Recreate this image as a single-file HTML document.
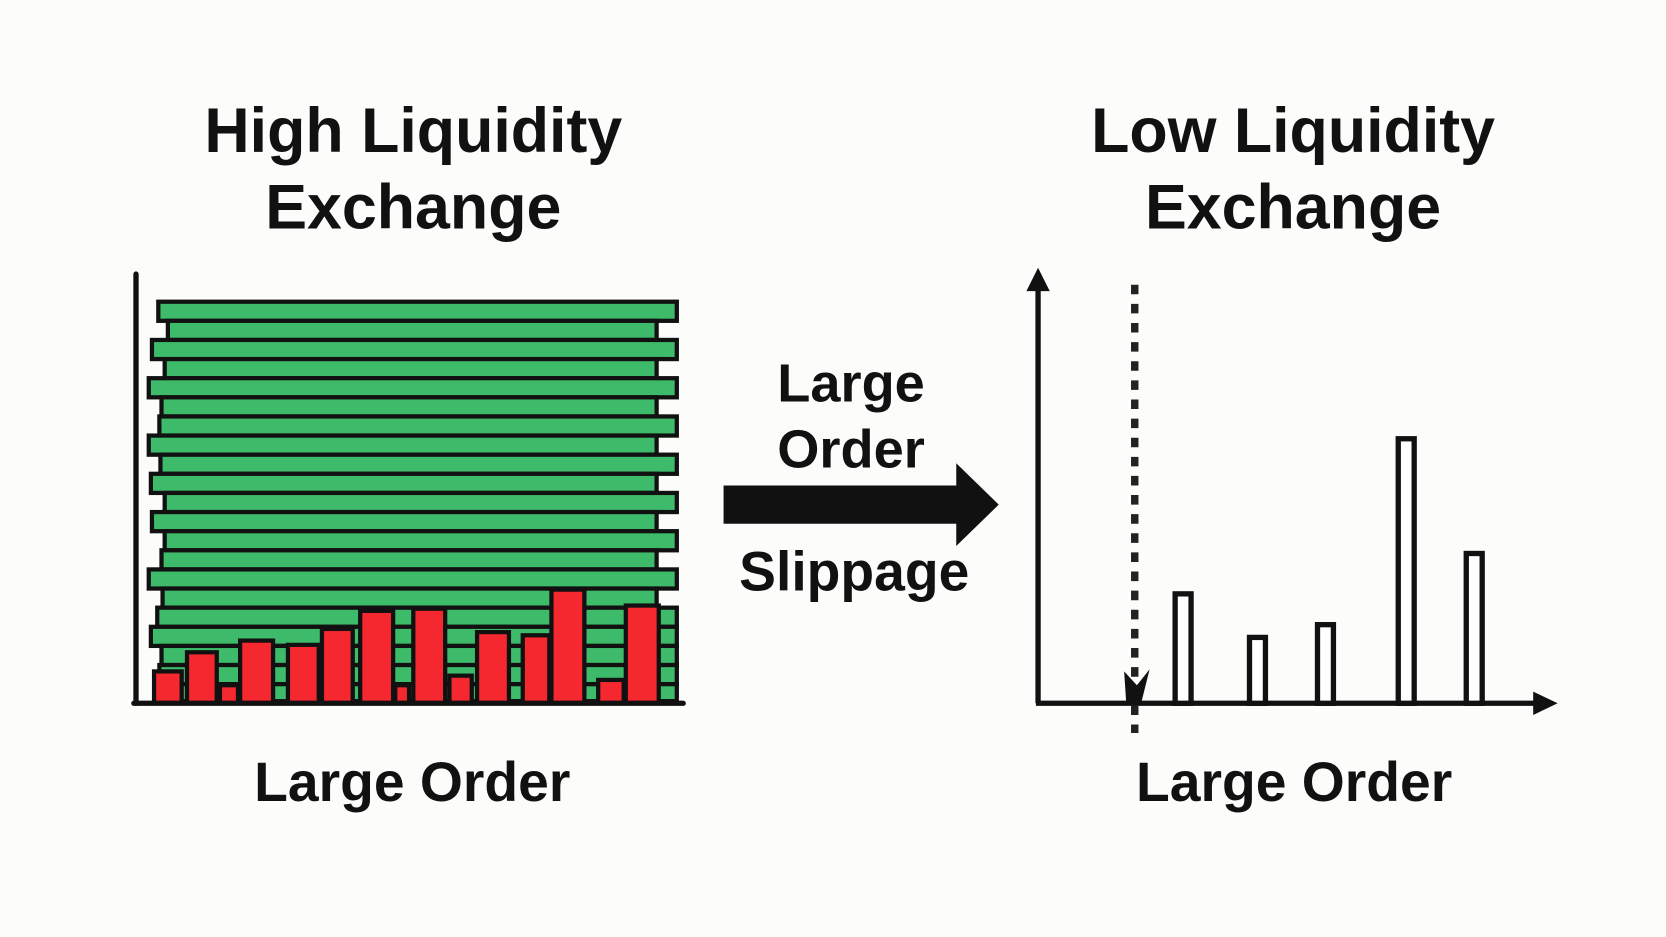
<!DOCTYPE html>
<html><head><meta charset="utf-8"><style>
html,body{margin:0;padding:0;background:#fcfcfa;}
svg{display:block;}
text{font-family:"Liberation Sans",sans-serif;font-weight:bold;fill:#111;text-anchor:middle;}
</style></head><body>
<svg width="1666" height="937" viewBox="0 0 1568 882" preserveAspectRatio="none" xmlns="http://www.w3.org/2000/svg">
<rect width="1568" height="882" fill="#fcfcfa"/>
<text x="389" y="143" font-size="59">High Liquidity</text>
<text x="389" y="215" font-size="59">Exchange</text>
<text x="1217" y="143" font-size="59">Low Liquidity</text>
<text x="1217" y="215" font-size="59">Exchange</text>

<g fill="#3dbb6a" stroke="#111" stroke-width="4">
<rect x="149" y="284" width="488" height="18"/>
<rect x="158" y="302" width="460" height="18"/>
<rect x="143" y="320" width="494" height="18"/>
<rect x="155" y="338" width="463" height="18"/>
<rect x="140" y="356" width="497" height="18"/>
<rect x="152" y="374" width="466" height="18"/>
<rect x="150" y="392" width="487" height="18"/>
<rect x="140" y="410" width="478" height="18"/>
<rect x="151" y="428" width="486" height="18"/>
<rect x="142" y="446" width="476" height="18"/>
<rect x="155" y="464" width="482" height="18"/>
<rect x="143" y="482" width="475" height="18"/>
<rect x="155" y="500" width="482" height="18"/>
<rect x="152" y="518" width="466" height="18"/>
<rect x="140" y="536" width="497" height="18"/>
<rect x="153" y="554" width="465" height="18"/>
<rect x="148" y="572" width="489" height="18"/>
<rect x="142" y="590" width="495" height="18"/>
<rect x="152" y="608" width="485" height="18"/>
<rect x="150" y="626" width="487" height="18"/>
<rect x="150" y="644" width="487" height="16"/>
</g>
<g fill="#f5282f" stroke="#111" stroke-width="4">
<rect x="145" y="632" width="26" height="30"/>
<rect x="176" y="614" width="28" height="48"/>
<rect x="207" y="645" width="17" height="17"/>
<rect x="226" y="603" width="31" height="59"/>
<rect x="271" y="607" width="29" height="55"/>
<rect x="303" y="592" width="29" height="70"/>
<rect x="339" y="575" width="31" height="87"/>
<rect x="372" y="645" width="13" height="17"/>
<rect x="389" y="573" width="30" height="89"/>
<rect x="423" y="636" width="21" height="26"/>
<rect x="449" y="595" width="30" height="67"/>
<rect x="492" y="598" width="25" height="64"/>
<rect x="519" y="555" width="31" height="107"/>
<rect x="563" y="640" width="24" height="22"/>
<rect x="589" y="570" width="31" height="92"/>
</g>
<line x1="128" y1="258" x2="128" y2="662" stroke="#111" stroke-width="5" stroke-linecap="round"/>
<line x1="126" y1="662" x2="643" y2="662" stroke="#111" stroke-width="5" stroke-linecap="round"/>
<text x="388" y="754" font-size="52">Large Order</text>

<text x="801" y="378" font-size="51">Large</text>
<text x="801" y="440" font-size="51">Order</text>
<polygon points="681,457 900,457 900,436 940,475 900,514 900,493 681,493" fill="#111"/>
<text x="804" y="556" font-size="52">Slippage</text>

<line x1="977" y1="268" x2="977" y2="662" stroke="#111" stroke-width="5"/>
<polygon points="966,274 977,252 988,274" fill="#111"/>
<line x1="975" y1="662" x2="1450" y2="662" stroke="#111" stroke-width="5"/>
<polygon points="1443,651 1466,662 1443,673" fill="#111"/>
<line x1="1068" y1="268" x2="1068" y2="690" stroke="#222" stroke-width="7" stroke-dasharray="9,9"/>
<polygon points="1058,632 1070,645 1082,630 1074,662 1060,662" fill="#111"/>
<g fill="#fff" stroke="#111" stroke-width="5">
<rect x="1106" y="559" width="15" height="103"/>
<rect x="1176" y="600" width="15" height="62"/>
<rect x="1240" y="588" width="15" height="74"/>
<rect x="1316" y="413" width="15" height="249"/>
<rect x="1380" y="521" width="15" height="141"/>
</g>
<text x="1218" y="754" font-size="52">Large Order</text>
</svg>
</body></html>
